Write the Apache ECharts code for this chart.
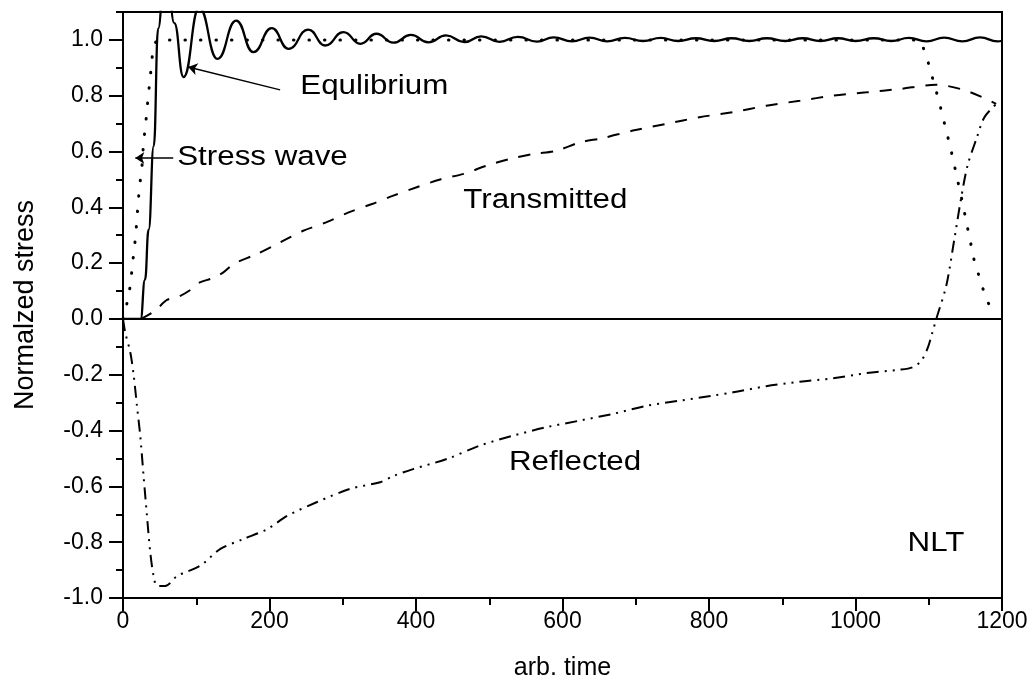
<!DOCTYPE html>
<html>
<head>
<meta charset="utf-8">
<script src="https://cdn.jsdelivr.net/npm/echarts@6/dist/echarts.min.js"></script>
<style>
  html, body { margin: 0; padding: 0; background: #fff; }
  #chart { width: 1032px; height: 686px; }
</style>
</head>
<body>
<div id="chart"></div>
<script>
// values, [arb. time, normalized stress]
const stressWave = [
  [0, 0], [6, 0.062], [10, 0.12], [14.5, 0.233], [17, 0.29], [22, 0.46], [26, 0.55],
  [28, 0.63], [31, 0.7], [34.5, 0.8], [37, 0.86], [41, 0.97], [46, 1.0],
  [1088, 1.0], [1096, 0.95], [1114, 0.78], [1130, 0.61], [1145, 0.43],
  [1162, 0.21], [1175, 0.1], [1187, 0.02]
];
const equilibrium = [
  [0, 0], [24, 0], [30, 0.14], [35, 0.32], [42, 0.62], [48, 1.04], [58, 1.35], [70, 1.06],
  [82.6, 0.867], [104, 1.115], [129, 0.932], [154.5, 1.069], [178, 0.956], [203, 1.042],
  [226, 0.968], [253, 1.037], [276, 0.98], [301, 1.028], [324, 0.986], [346, 1.022],
  [369, 0.99], [393, 1.018], [417, 0.991], [441, 1.016], [466, 0.992], [489, 1.013],
  [514, 0.993], [539, 1.011], [565, 0.994], [588, 1.009], [613, 0.995], [637, 1.008],
  [661, 0.995], [685, 1.007], [710, 0.996], [734, 1.007], [758, 0.996], [782, 1.006],
  [807, 0.996], [831, 1.006], [855, 0.996], [879, 1.006], [904, 0.996], [928, 1.006],
  [952, 0.996], [976, 1.006], [1000, 0.996], [1025, 1.006], [1049, 0.996], [1073, 1.007],
  [1097, 0.995], [1121, 1.008], [1146, 0.995], [1170, 1.009], [1194, 0.995], [1200, 0.997]
];
const transmitted = [
  [24.5, 0], [44, 0.03], [60, 0.068], [76, 0.08], [92, 0.104], [105, 0.131], [121, 0.145],
  [137, 0.167], [151, 0.197], [183, 0.233], [215, 0.275], [246, 0.316], [278, 0.347],
  [308, 0.382], [340, 0.412], [369, 0.442], [401, 0.472], [433, 0.5], [465, 0.52],
  [496, 0.549], [528, 0.573], [560, 0.591], [592, 0.603], [624, 0.633], [655, 0.648],
  [696, 0.675], [742, 0.699], [787, 0.723], [833, 0.741], [878, 0.764], [924, 0.782],
  [969, 0.8], [1015, 0.812], [1060, 0.824], [1110, 0.839], [1151, 0.818], [1192, 0.771]
];
const reflected = [
  [0, 0], [3, -0.048], [10, -0.12], [14.5, -0.2], [19, -0.31], [23.6, -0.42], [28, -0.56],
  [32.7, -0.705], [37.2, -0.836], [41.7, -0.92], [46.4, -0.956], [57.7, -0.957],
  [74, -0.921], [105, -0.885], [133, -0.824], [164, -0.789], [197, -0.753], [224, -0.706],
  [265, -0.656], [310, -0.609], [351, -0.585], [369, -0.563], [396, -0.538], [442, -0.502],
  [487, -0.454], [533, -0.418], [578, -0.388], [624, -0.364], [669, -0.34], [715, -0.311],
  [760, -0.293], [805, -0.275], [833, -0.263], [878, -0.241], [924, -0.225], [969, -0.213],
  [1015, -0.194], [1060, -0.182], [1078, -0.173], [1090, -0.149], [1099, -0.101],
  [1105, -0.048], [1111, 0.006], [1124, 0.12], [1135, 0.287], [1144, 0.43], [1153, 0.55],
  [1165, 0.645], [1176, 0.723], [1192, 0.77]
];
const yLabelValues = [-1.0, -0.8, -0.6, -0.4, -0.2, 0.0, 0.2, 0.4, 0.6, 0.8, 1.0];

// text notes, anchored at their left-middle point in data units
const notes = [
  { text: "Equlibrium", at: [242, 0.832] },
  { text: "Stress wave", at: [74, 0.577] },
  { text: "Transmitted", at: [464.5, 0.424] },
  { text: "Reflected", at: [526.8, -0.513] },
  { text: "NLT", at: [1071, -0.806] }
];
const arrows = [
  { from: [214.5, 0.821], to: [89, 0.903] },
  { from: [68.6, 0.577], to: [16.8, 0.577] }
];

const black = "#000";
const font = "Liberation Sans";

const chart = echarts.init(document.getElementById("chart"));

const option = {
  animation: false,
  backgroundColor: "#fff",
  grid: {
    left: 123, right: 30, top: 12, bottom: 87,
    show: true, borderColor: black, borderWidth: 2
  },
  xAxis: {
    type: "value", min: 0, max: 1200, interval: 200,
    name: "arb. time", nameLocation: "middle", nameGap: 58,
    nameTextStyle: { color: black, fontSize: 25, fontFamily: font },
    axisLine: { onZero: false, lineStyle: { color: black, width: 2 } },
    axisTick: { inside: false, length: 13, lineStyle: { color: black, width: 2 } },
    minorTick: { show: true, splitNumber: 2, length: 7, lineStyle: { color: black, width: 2 } },
    axisLabel: { color: black, fontSize: 23, fontFamily: font, margin: 12, formatter: (v) => String(v) },
    splitLine: { show: false },
    minorSplitLine: { show: false }
  },
  yAxis: [
    {
      type: "value", min: -1, max: 1.1, position: "left",
      name: "Normalzed stress", nameLocation: "middle", nameGap: 84,
      nameTextStyle: { color: black, fontSize: 27, fontFamily: font },
      axisLine: { onZero: false, lineStyle: { color: black, width: 2 } },
      axisTick: { inside: false, length: 14, customValues: yLabelValues, lineStyle: { color: black, width: 2 } },
      axisLabel: {
        color: black, fontSize: 23, fontFamily: font, margin: 20,
        customValues: yLabelValues,
        formatter: (v) => v.toFixed(1)
      },
      splitLine: { show: false }
    },
    {
      type: "value", min: -1, max: 1.1, interval: 0.1, position: "left",
      axisLine: { show: false, onZero: false },
      axisTick: { inside: false, length: 7, lineStyle: { color: black, width: 2 } },
      axisLabel: { show: false },
      splitLine: { show: false }
    }
  ],
  series: [
    {
      name: "Stress wave", type: "line", data: stressWave, showSymbol: false,
      lineStyle: { color: black, width: 3, type: [0.5, 15], cap: "round" }
    },
    {
      name: "Transmitted", type: "line", data: transmitted, showSymbol: false, smooth: 0.3,
      lineStyle: { color: black, width: 2, type: [12, 11] },
      markLine: {
        silent: true, symbol: "none", label: { show: false },
        lineStyle: { color: black, width: 2, type: "solid" },
        data: [{ yAxis: 0 }]
      }
    },
    {
      name: "Reflected", type: "line", data: reflected, showSymbol: false, smooth: 0.3,
      lineStyle: { color: black, width: 2, type: [12, 6, 2, 6, 2, 6] }
    },
    {
      name: "Equilibrium", type: "line", data: equilibrium, showSymbol: false,
      smooth: 0.5, smoothMonotone: "x",
      lineStyle: { color: black, width: 2.3 },
      markLine: {
        silent: true, symbol: ["none", "arrow"], symbolSize: 9, label: { show: false },
        lineStyle: { color: black, width: 1.5, type: "solid" },
        data: arrows.map((a) => [{ coord: a.from }, { coord: a.to }])
      }
    }
  ]
};

chart.setOption(option);

// place the notes once the axes exist
chart.setOption({
  graphic: notes.map((n) => {
    const p = chart.convertToPixel({ xAxisIndex: 0, yAxisIndex: 0 }, n.at);
    return {
      type: "text", x: p[0], y: p[1], scaleX: 1.16,
      style: { text: n.text, fill: black, fontSize: 27, fontFamily: font, verticalAlign: "middle" }
    };
  })
});
</script>
</body>
</html>
